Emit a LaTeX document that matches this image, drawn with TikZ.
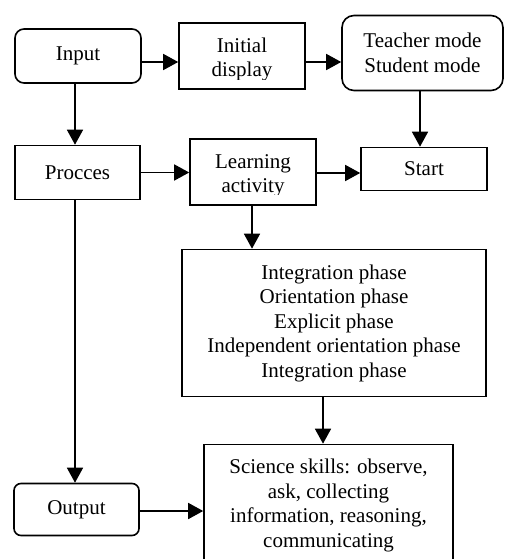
\documentclass[tikz,border=0pt]{standalone}
\usepackage{fontspec}
\setmainfont{Liberation Serif}
\usetikzlibrary{arrows.meta}
\begin{document}
\begin{tikzpicture}[x=1pt,y=-1pt,
  box/.style={draw, line width=1.6pt, inner sep=0pt, font=\fontsize{21}{24.5}\selectfont, align=center},
  rbox/.style={box, rounded corners=9pt},
  txt/.style={inner sep=0pt, font=\fontsize{21}{24}\selectfont, align=center},
  arr/.style={line width=1.6pt, -{Triangle[length=15pt,width=16pt]}}]
\useasboundingbox (0,0) rectangle (504,559);
\clip (0,0) rectangle (504,559);
% boxes
\node[rbox, minimum width=126pt, minimum height=54pt] (input) at (78,56) {Input};
\node[box, minimum width=126pt, minimum height=66pt] (init) at (242,56) {};
\node[rbox, rounded corners=12pt, minimum width=161pt, minimum height=75pt] (teacher) at (422.5,53) {Teacher mode\\Student mode};
\node[box, minimum width=125pt, minimum height=54pt] (procces) at (77.5,172.5) {Procces};
\node[box, minimum width=126pt, minimum height=66pt] (learn) at (253,172) {};
\node[box, minimum width=126pt, minimum height=43pt] (start) at (424,169) {Start};
\node[box, minimum width=304pt, minimum height=147pt] (phase) at (334,323) {Integration phase\\Orientation phase\\Explicit phase\\Independent orientation phase\\Integration phase};
\node[rbox, rounded corners=7pt, minimum width=125pt, minimum height=52pt] (output) at (76.5,509.5) {Output};
\node[box, minimum width=249pt, minimum height=122pt] (science) at (328.5,505.5) {Science skills: observe,\\ask, collecting\\information, reasoning,\\communicating};
% clipped texts
\begin{scope}
\clip (init.north west) rectangle ([yshift=10pt]init.south east);
\node[txt, anchor=base] (initt) at (242,77) {Initial\\display};
\end{scope}
\begin{scope}
\clip (learn.north west) rectangle ([yshift=11pt]learn.south east);
\node[txt, anchor=base] (learnt) at (253,192) {Learning\\activity};
\end{scope}
% connectors
\draw[arr] ([yshift=-6pt]input.east) -- ([yshift=-6pt]input.east -| init.west);
\draw[arr] ([yshift=-6pt]init.east) -- ([yshift=-6pt]init.east -| teacher.west);
\draw[arr] ([xshift=-3pt]input.south) -- ([xshift=-3pt]input.south |- procces.north);
\draw[arr] ([xshift=-2.5pt]teacher.south) -- ([xshift=-2.5pt]teacher.south |- start.north);
\draw[arr] (procces.east) -- (procces.east -| learn.west);
\draw[arr] ([yshift=-1pt]learn.east) -- ([yshift=-1pt]learn.east -| start.west);
\draw[arr] ([xshift=-1pt]learn.south) -- ([xshift=-1pt]learn.south |- phase.north);
\draw[arr] ([xshift=-2.5pt]procces.south) -- ([xshift=-2.5pt]procces.south |- output.north);
\draw[arr] ([xshift=-11pt]phase.south) -- ([xshift=-11pt]phase.south |- science.north);
\draw[arr] ([yshift=-1.5pt]output.east) -- ([yshift=-1.5pt]output.east -| science.west);
\end{tikzpicture}
\end{document}
